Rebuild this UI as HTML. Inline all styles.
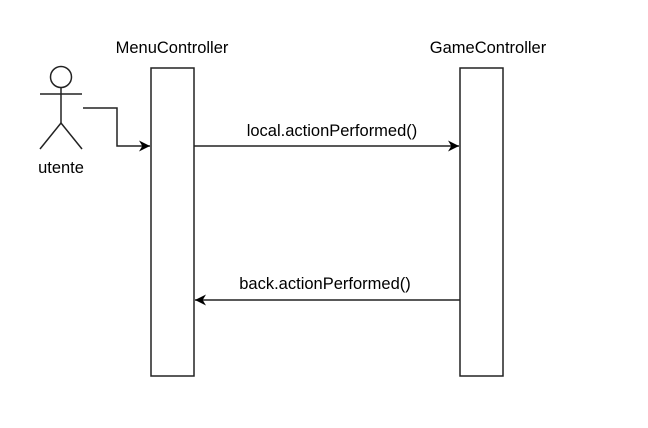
<!DOCTYPE html>
<html><head><meta charset="utf-8"><style>
html,body{margin:0;padding:0;background:#fff;}
svg{display:block;}
text{font-family:"Liberation Sans",Arial,sans-serif;font-size:16.5px;fill:#000;}
</style></head><body>
<svg width="648" height="428" viewBox="0 0 648 428" xmlns="http://www.w3.org/2000/svg">
<defs>
<marker id="a" viewBox="0 0 10 10" refX="10" refY="5" markerWidth="11" markerHeight="11" markerUnits="userSpaceOnUse" orient="auto">
<path d="M0,0 L10,5 L0,10 L3,5 Z" fill="#000"/>
</marker>
</defs>
<g stroke="#222" stroke-width="1.5" fill="none">
<circle cx="61" cy="77" r="10.5" fill="#fff"/>
<line x1="61" y1="87.5" x2="61" y2="123"/>
<line x1="40" y1="94" x2="82" y2="94"/>
<line x1="61" y1="123" x2="40" y2="149"/>
<line x1="61" y1="123" x2="82" y2="149"/>
<rect x="151" y="68" width="43" height="308" fill="#fff"/>
<rect x="460" y="68" width="43" height="308" fill="#fff"/>
<polyline points="83,108 117,108 117,146 150,146" marker-end="url(#a)"/>
<line x1="194" y1="146" x2="459" y2="146" marker-end="url(#a)"/>
<line x1="460" y1="300" x2="195" y2="300" marker-end="url(#a)"/>
</g>
<text x="172" y="53" text-anchor="middle">MenuController</text>
<text x="488" y="53" text-anchor="middle">GameController</text>
<text x="61" y="173" text-anchor="middle">utente</text>
<text x="332" y="136" text-anchor="middle">local.actionPerformed()</text>
<text x="325" y="289" text-anchor="middle">back.actionPerformed()</text>
</svg>
</body></html>
